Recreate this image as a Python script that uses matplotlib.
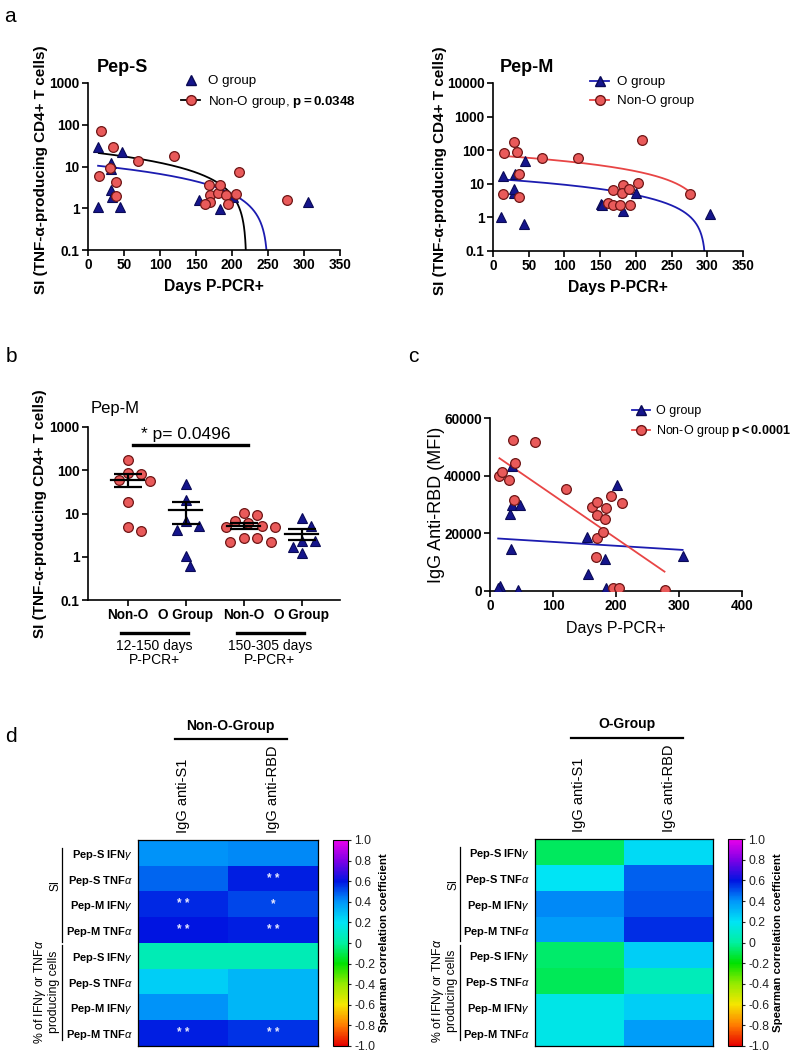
import numpy as np
import matplotlib
matplotlib.use('Agg')
import matplotlib.pyplot as plt
from matplotlib.colors import LinearSegmentedColormap
from matplotlib.lines import Line2D
import matplotlib.transforms as mtransforms

plt.rcParams['font.family'] = ['Liberation Sans', 'DejaVu Sans']
plt.rcParams['mathtext.fontset'] = 'custom'
plt.rcParams['mathtext.rm'] = 'Liberation Sans'
plt.rcParams['mathtext.bf'] = 'Liberation Sans:bold'
plt.rcParams['mathtext.it'] = 'Liberation Sans:italic'
plt.rcParams['axes.linewidth'] = 1.2

# ---------------- data: panel a (Pep-S) ----------------
pepS_O_days = [14, 14, 31.5, 32, 31.5, 34, 47, 45, 154, 183, 185, 202, 306]
pepS_O_si = [29.5, 1.09, 11.8, 8.5, 2.7, 1.9, 22, 1.1, 1.57, 0.97, 2.8, 1.9, 1.45]
pepS_nonO_days = [17.6, 15, 35, 30, 38.5, 38.5, 70, 120, 168, 170, 170, 162, 181, 183,
                  192, 194, 210, 205, 277]
pepS_nonO_si = [70, 6, 29.5, 9, 4.3, 2.0, 13.7, 17.6, 3.6, 2.1, 1.4, 1.26, 2.3, 3.6,
                2.1, 1.26, 7.2, 2.2, 1.6]
pepS_O_fit = (11.03, -0.0441)      # intercept, slope
pepS_nonO_fit = (22.54, -0.1024)

# ---------------- data: panel a (Pep-M) ----------------
pepM_O_days = [13.5, 11.6, 30, 30, 31, 45, 43, 151, 153, 181.5, 200, 304]
pepM_O_si = [17, 1.04, 5.2, 6.8, 20, 49, 0.63, 2.5, 2.3, 1.6, 5.3, 1.3]
pepM_nonO_days = [16, 13.5, 29, 33.5, 36, 36, 68, 119, 160.5, 168.5, 168.5, 181.5, 180,
                  178, 191, 192, 203, 209, 275.5]
pepM_nonO_si = [85, 4.9, 173, 87, 20, 4.1, 60, 60, 2.6, 2.3, 6.5, 9.1, 5.4, 2.3, 6.8,
                2.3, 10.7, 203, 4.9]
pepM_O_fit = (14.12, -0.04737)
pepM_nonO_fit = (71.0, -0.237)

# ---------------- data: panel b ----------------
b_categories = ['Non-O', 'O Group', 'Non-O', 'O Group']
b_periods = ['12-150 days\nP-PCR+', '150-305 days\nP-PCR+']
b_values = [
    [170, 81, 88, 57, 59, 18.6, 4.0, 4.75],
    [49, 20, 5.1, 4.1, 6.6, 1.03, 0.61],
    [6.8, 10.4, 9.0, 4.75, 5.9, 5.2, 2.65, 2.2, 2.2, 2.65, 4.9],
    [7.7, 5.1, 2.35, 2.35, 1.2, 1.7],
]
b_is_nonO = [True, False, True, False]
b_sig_pair = (0, 2)
b_sig_text = '* p= 0.0496'

# ---------------- data: panel c ----------------
rbd_O_days = [16, 13, 33, 32, 35.5, 35.5, 47.7, 44, 153.6, 155, 183, 184, 202, 305.7]
rbd_O_mfi = [1740, 1160, 14480, 26750, 29900, 43400, 29900, 350, 18650, 5800, 11000,
             1160, 36830, 12280]
rbd_nonO_days = [15, 18.5, 30.7, 36, 39.7, 38.7, 71.5, 120, 162.6, 170.6, 170.6, 169.5,
                 168.5, 191.8, 183.8, 182, 180, 210, 195, 205, 277]
rbd_nonO_mfi = [39960, 41120, 38340, 52470, 44360, 31390, 51780, 35440, 29070, 31040,
                26410, 18300, 11930, 32780, 28730, 25020, 20620, 30460, 1160, 1160, 350]
rbd_O_fit = (18383, -13.52)
rbd_nonO_fit = (48297, -150.1)

# ---------------- data: panel d ----------------
heat_rows = ['Pep-S IFN$\\gamma$', 'Pep-S TNF$\\alpha$', 'Pep-M IFN$\\gamma$', 'Pep-M TNF$\\alpha$',
             'Pep-S IFN$\\gamma$', 'Pep-S TNF$\\alpha$', 'Pep-M IFN$\\gamma$', 'Pep-M TNF$\\alpha$']
heat_cols = ['IgG anti-S1', 'IgG anti-RBD']
nonO_rho = [[0.40, 0.42], [0.47, 0.58], [0.57, 0.52], [0.60, 0.58],
            [0.05, 0.05], [0.25, 0.32], [0.40, 0.32], [0.58, 0.55]]
nonO_stars = [['', ''], ['', '**'], ['**', '*'], ['**', '**'],
              ['', ''], ['', ''], ['', ''], ['**', '**']]
O_rho = [[-0.08, 0.22], [0.20, 0.48], [0.42, 0.50], [0.38, 0.56],
         [-0.07, 0.25], [-0.09, 0.06], [0.17, 0.25], [0.17, 0.38]]
O_stars = [['', '']] * 8
cbar_ticks = [1.0, 0.8, 0.6, 0.4, 0.2, 0, -0.2, -0.4, -0.6, -0.8, -1.0]

# ---------------- styles ----------------
RED_FILL = '#E95A5A'
RED_EDGE = '#6E1616'
BLUE_FILL = '#15158C'
BLUE_LINE = '#1C1CB0'
RED_LINE = '#E84545'
W, H = 800, 1053

fig = plt.figure(figsize=(W / 100, H / 100), dpi=100)


def rect(l, r, t, b):
    return [l / W, 1 - b / H, (r - l) / W, (b - t) / H]


def ftext(x, y, s, **kw):
    return fig.text(x / W, 1 - y / H, s, **kw)


def style_axes(ax, size=9.8):
    for s in ['top', 'right']:
        ax.spines[s].set_visible(False)
    ax.tick_params(direction='out', length=4, width=1.2, labelsize=size, pad=2)
    for lab in ax.get_xticklabels() + ax.get_yticklabels():
        lab.set_fontweight('bold')


def fit_line(ax, days, fit, color, log=True):
    x = np.linspace(min(days), max(days), 600)
    y = fit[0] + fit[1] * x
    if log:
        y = np.where(y > 0, y, np.nan)
    ax.plot(x, y, color=color, lw=1.3, zorder=2, clip_on=True)


def scatter_O(ax, x, y):
    ax.plot(x, y, ls='none', marker='^', ms=7, mfc=BLUE_FILL, mec='#0A0A55', mew=0.8, zorder=3)


def scatter_nonO(ax, x, y):
    ax.plot(x, y, ls='none', marker='o', ms=7, mfc=RED_FILL, mec=RED_EDGE, mew=0.9, zorder=4)


ylab = 'SI (TNF-α-producing CD4+ T cells)'
LEG = dict(frameon=False, fontsize=9.6, handlelength=1.45, handletextpad=0.6,
           borderpad=0, borderaxespad=0, labelspacing=0.5)

# ---------------- panel a left ----------------
axA1 = fig.add_axes(rect(88, 340, 83, 250))
fit_line(axA1, pepS_O_days, pepS_O_fit, BLUE_LINE)
fit_line(axA1, pepS_nonO_days, pepS_nonO_fit, 'black')
scatter_O(axA1, pepS_O_days, pepS_O_si)
scatter_nonO(axA1, pepS_nonO_days, pepS_nonO_si)
axA1.set_yscale('log')
axA1.set_ylim(0.1, 1000)
axA1.set_xlim(0, 350)
axA1.set_xticks(np.arange(0, 351, 50))
axA1.set_yticks([0.1, 1, 10, 100, 1000])
axA1.set_yticklabels(['0.1', '1', '10', '100', '1000'])
axA1.yaxis.set_minor_locator(matplotlib.ticker.NullLocator())
style_axes(axA1)
axA1.set_xlabel('Days P-PCR+', fontsize=11.3, fontweight='bold')
axA1.set_ylabel(ylab, fontsize=11, fontweight='bold')
axA1.xaxis.set_label_coords(0.5, -0.172)
axA1.yaxis.set_label_coords(-0.16, 0.48)
hA1 = [Line2D([], [], ls='none', marker='^', ms=7, mfc=BLUE_FILL, mec='#0A0A55'),
       Line2D([], [], color='black', lw=1.3, marker='o', ms=7, mfc=RED_FILL, mec=RED_EDGE)]
axA1.legend(hA1, ['O group', 'Non-O group, $\\mathbf{p{=}0.0348}$'], loc='upper left',
            bbox_to_anchor=(181 / W, 1 - 75 / H), bbox_transform=fig.transFigure, **LEG)
ftext(97, 67, 'Pep-S', fontsize=13, fontweight='bold', va='center')

# ---------------- panel a right ----------------
axA2 = fig.add_axes(rect(493, 743, 83, 251))
fit_line(axA2, pepM_O_days, pepM_O_fit, BLUE_LINE)
fit_line(axA2, pepM_nonO_days, pepM_nonO_fit, RED_LINE)
scatter_O(axA2, pepM_O_days, pepM_O_si)
scatter_nonO(axA2, pepM_nonO_days, pepM_nonO_si)
axA2.set_yscale('log')
axA2.set_ylim(0.1, 10000)
axA2.set_xlim(0, 350)
axA2.set_xticks(np.arange(0, 351, 50))
axA2.set_yticks([0.1, 1, 10, 100, 1000, 10000])
axA2.set_yticklabels(['0.1', '1', '10', '100', '1000', '10000'])
axA2.yaxis.set_minor_locator(matplotlib.ticker.NullLocator())
style_axes(axA2)
axA2.set_xlabel('Days P-PCR+', fontsize=11.3, fontweight='bold')
axA2.set_ylabel(ylab, fontsize=11, fontweight='bold')
axA2.xaxis.set_label_coords(0.5, -0.172)
axA2.yaxis.set_label_coords(-0.184, 0.48)
hA2 = [Line2D([], [], color=BLUE_LINE, lw=1.3, marker='^', ms=7, mfc=BLUE_FILL, mec='#0A0A55'),
       Line2D([], [], color=RED_LINE, lw=1.3, marker='o', ms=7, mfc=RED_FILL, mec=RED_EDGE)]
axA2.legend(hA2, ['O group', 'Non-O group'], loc='upper left',
            bbox_to_anchor=(590 / W, 1 - 76 / H), bbox_transform=fig.transFigure, **LEG)
ftext(500, 67, 'Pep-M', fontsize=13, fontweight='bold', va='center')

# ---------------- panel b ----------------
axB = fig.add_axes(rect(88, 340, 427, 600))
axB.set_yscale('log')
axB.set_ylim(0.1, 1000)
axB.set_xlim(-0.69, 3.66)
px_per_cat = 58.0
px_per_dec = 173.0 / 4


def swarm_offsets(vals, diam=10.5, step=4.5):
    vals = np.asarray(vals, float)
    order = np.argsort(-vals)
    placed = []
    offs = np.zeros(len(vals))
    for i in order:
        yp = np.log10(vals[i]) * px_per_dec
        k = 0
        while True:
            cands = [0.0] if k == 0 else [k * step, -k * step]
            ok = None
            for xp in cands:
                if all(np.hypot(xp - a, yp - b) >= diam for a, b in placed):
                    ok = xp
                    break
            if ok is not None:
                break
            k += 1
        placed.append((ok, yp))
        offs[i] = ok / px_per_cat
    return offs


for i, vals in enumerate(b_values):
    offs = swarm_offsets(vals)
    xs = i + offs
    if b_is_nonO[i]:
        scatter_nonO(axB, xs, vals)
    else:
        scatter_O(axB, xs, vals)
    v = np.asarray(vals, float)
    m = v.mean()
    sem = v.std(ddof=1) / np.sqrt(len(v))
    axB.plot([i - 0.285, i + 0.285], [m, m], color='black', lw=1.6, zorder=5)
    axB.errorbar([i], [m], yerr=[[sem], [sem]], fmt='none', ecolor='black', elinewidth=1.6,
                 capsize=10, capthick=1.6, zorder=5)

axB.set_xticks(range(len(b_categories)))
axB.set_xticklabels(b_categories)
axB.set_yticks([0.1, 1, 10, 100, 1000])
axB.set_yticklabels(['0.1', '1', '10', '100', '1000'])
axB.yaxis.set_minor_locator(matplotlib.ticker.NullLocator())
style_axes(axB)
axB.tick_params(axis='x', labelsize=9.8)
axB.set_ylabel(ylab, fontsize=11, fontweight='bold')
axB.yaxis.set_label_coords(-0.163, 0.5)
trB = mtransforms.blended_transform_factory(axB.transData, axB.transAxes)
s0, s1 = b_sig_pair
axB.plot([s0 + 0.08, s1 + 0.07], [0.896, 0.896], color='black', lw=2.4, transform=trB,
         clip_on=False)
axB.text((s0 + s1) / 2, 0.915, b_sig_text, transform=trB, ha='center', va='bottom',
         fontsize=12.5)
for k, lab in enumerate(b_periods):
    i0, i1 = 2 * k, 2 * k + 1
    axB.plot([i0 - 0.12, i1 + 0.04], [-0.19, -0.19], color='black', lw=2.4, transform=trB,
             clip_on=False)
    axB.text((i0 + i1) / 2 - 0.05, -0.228, lab, transform=trB, ha='center', va='top',
             fontsize=10, linespacing=1.0)
ftext(91, 408, 'Pep-M', fontsize=12, va='center')

# ---------------- panel c ----------------
axC = fig.add_axes(rect(490, 742, 418, 591))
fit_line(axC, rbd_O_days, rbd_O_fit, BLUE_LINE, log=False)
fit_line(axC, rbd_nonO_days, rbd_nonO_fit, RED_LINE, log=False)
scatter_O(axC, rbd_O_days, rbd_O_mfi)
scatter_nonO(axC, rbd_nonO_days, rbd_nonO_mfi)
axC.set_xlim(0, 400)
axC.set_ylim(0, 60000)
axC.set_xticks([0, 100, 200, 300, 400])
axC.set_yticks([0, 20000, 40000, 60000])
style_axes(axC)
axC.set_xlabel('Days P-PCR+', fontsize=11.5)
axC.set_ylabel('IgG Anti-RBD (MFI)', fontsize=13)
axC.xaxis.set_label_coords(0.5, -0.173)
axC.yaxis.set_label_coords(-0.18, 0.5)
hC = [Line2D([], [], color=BLUE_LINE, lw=1.3, marker='^', ms=7, mfc=BLUE_FILL, mec='#0A0A55'),
      Line2D([], [], color=RED_LINE, lw=1.3, marker='o', ms=7, mfc=RED_FILL, mec=RED_EDGE)]
LEGC = dict(LEG)
LEGC.update(fontsize=9.0, handletextpad=0.5)
axC.legend(hC, ['O group', 'Non-O group $\\mathbf{p{<}0.0001}$'], loc='upper left',
           bbox_to_anchor=(632 / W, 1 - 405 / H), bbox_transform=fig.transFigure, **LEGC)

# ---------------- panel d ----------------
cmap_nodes = [(-1.0, (230, 0, 0)), (-0.8, (255, 125, 0)), (-0.6, (245, 230, 0)),
              (-0.4, (150, 235, 0)), (-0.2, (0, 225, 0)), (0.0, (0, 240, 160)),
              (0.2, (0, 228, 245)), (0.4, (0, 150, 250)), (0.6, (0, 20, 225)),
              (0.8, (125, 0, 230)), (1.0, (235, 0, 235))]
cmap = LinearSegmentedColormap.from_list(
    'spear', [((v + 1) / 2, tuple(c / 255 for c in col)) for v, col in cmap_nodes])


def heatmap(l, r, t, b, cl, cr, rho, stars, title):
    ax = fig.add_axes(rect(l, r, t, b))
    data = np.asarray(rho, float)
    im = ax.imshow(data, cmap=cmap, vmin=-1, vmax=1, aspect='auto', interpolation='nearest')
    ax.set_xticks([])
    ax.set_yticks(range(len(heat_rows)))
    ax.set_yticklabels(heat_rows, fontsize=8, fontweight='bold')
    ax.tick_params(axis='y', length=0, pad=4)
    for s in ax.spines.values():
        s.set_linewidth(0.9)
    for i in range(data.shape[0]):
        for j in range(data.shape[1]):
            if stars[i][j]:
                ax.text(j, i, ' '.join(stars[i][j]), ha='center', va='center',
                        color='#E8E8FF', fontsize=8.5, fontweight='bold')
    for j, c in enumerate(heat_cols):
        ax.text(j, -0.78, c, rotation=90, ha='center', va='bottom', fontsize=10.5)
    ax.plot([0.205, 0.83], [1.49, 1.49], color='black', lw=1.6, transform=ax.transAxes,
            clip_on=False)
    ax.text(0.515, 1.52, title, transform=ax.transAxes, ha='center', va='bottom',
            fontsize=10, fontweight='bold')
    ax.plot([-0.42, -0.42], [0.961, 0.505], color='black', lw=0.9, transform=ax.transAxes,
            clip_on=False)
    ax.plot([-0.42, -0.42], [0.49, 0.03], color='black', lw=0.9, transform=ax.transAxes,
            clip_on=False)
    ax.text(-0.46, 0.78, 'SI', rotation=90, ha='center', va='center', fontsize=8.5,
            transform=ax.transAxes)
    ax.text(-0.51, 0.265, '% of IFN$\\gamma$ or TNF$\\alpha$\nproducing cells', rotation=90,
            ha='center', va='center', fontsize=8.8, transform=ax.transAxes,
            linespacing=1.05)
    cax = fig.add_axes(rect(cl, cr, t, b))
    cb = fig.colorbar(im, cax=cax, ticks=cbar_ticks)
    cb.ax.set_yticklabels(['0' if v == 0 else f'{v:.1f}' for v in cbar_ticks])
    cb.ax.tick_params(labelsize=8.8, length=2.5, width=0.8, pad=2, colors='#222222')
    cb.outline.set_linewidth(0.8)
    cb.set_label('Spearman correlation coefficient', fontsize=8.2, fontweight='bold',
                 labelpad=3)
    return ax


heatmap(138, 318, 840, 1046, 333, 348, nonO_rho, nonO_stars, 'Non-O-Group')
heatmap(535, 713, 839, 1046, 728, 742, O_rho, O_stars, 'O-Group')

# panel letters
ftext(10, 17, 'a', fontsize=15, va='center', ha='center')
ftext(11, 356, 'b', fontsize=15, va='center', ha='center')
ftext(413, 356, 'c', fontsize=15, va='center', ha='center')
ftext(11, 737, 'd', fontsize=15, va='center', ha='center')

fig.savefig('out.png', dpi=100)
